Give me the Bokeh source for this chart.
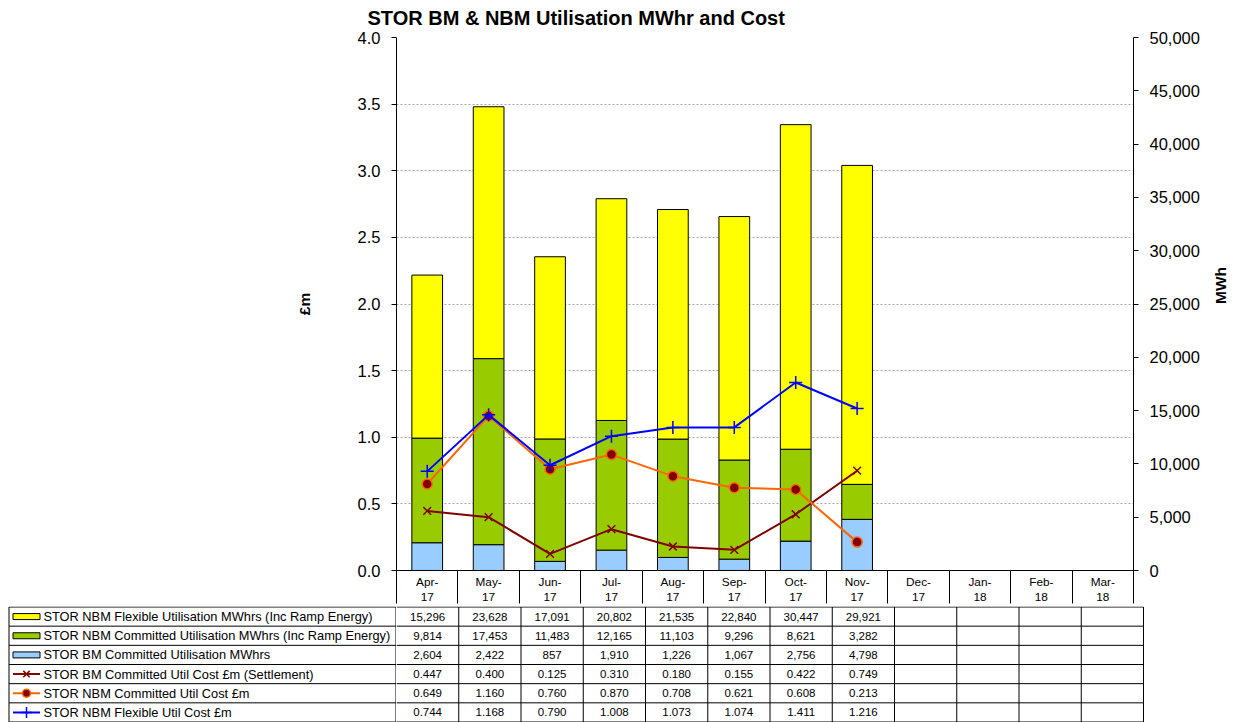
import math
from bokeh.plotting import figure
from bokeh.models import (Range1d, LinearAxis, SingleIntervalTicker,
                          FixedTicker, NumeralTickFormatter, ColumnDataSource)
from bokeh.layouts import column, row
from bokeh.embed import file_html
from bokeh.resources import INLINE
from bokeh.core.properties import value

# ---------------- data ----------------
months = ["Apr-17", "May-17", "Jun-17", "Jul-17", "Aug-17", "Sep-17",
          "Oct-17", "Nov-17", "Dec-17", "Jan-18", "Feb-18", "Mar-18"]
data_months = months[:8]

nbm_flexible_mwh = [15296, 23628, 17091, 20802, 21535, 22840, 30447, 29921]
nbm_committed_mwh = [9814, 17453, 11483, 12165, 11103, 9296, 8621, 3282]
bm_committed_mwh = [2604, 2422, 857, 1910, 1226, 1067, 2756, 4798]

bm_committed_cost = [0.447, 0.400, 0.125, 0.310, 0.180, 0.155, 0.422, 0.749]
nbm_committed_cost = [0.649, 1.160, 0.760, 0.870, 0.708, 0.621, 0.608, 0.213]
nbm_flexible_cost = [0.744, 1.168, 0.790, 1.008, 1.073, 1.074, 1.411, 1.216]

series_labels = [
    "STOR NBM Flexible Utilisation MWhrs (Inc Ramp Energy)",
    "STOR NBM Committed Utilisation MWhrs (Inc Ramp Energy)",
    "STOR BM  Committed Utilisation MWhrs",
    "STOR BM  Committed Util Cost £m (Settlement)",
    "STOR NBM Committed Util Cost £m",
    "STOR NBM Flexible Util Cost £m",
]

# ---------------- style ----------------
FONT = "Liberation Sans"
C_FLEX = "#FFFF00"
C_NBMC = "#99CC00"
C_BMC = "#99CCFF"
C_BMCOST = "#800000"
C_NBMCOST = "#FF6600"
C_FLEXCOST = "#0000FF"

W = 1240
LEFT = 396
RIGHT = 97
TOP = 37
FRAME_H = 536
HEAD_H = 33
HA = TOP + FRAME_H + HEAD_H
HB = 116
NCOL = len(months)
COL_PX = (W - LEFT - RIGHT) / NCOL

# category index -> centre of its column on the x scale
xpos = [months.index(m) + 0.5 for m in data_months]

# ---------------- chart ----------------
p = figure(width=W, height=HA, x_range=Range1d(0, NCOL), y_range=Range1d(0, 4),
           x_axis_location=None, output_backend="svg", toolbar_location=None,
           min_border_left=LEFT, min_border_right=RIGHT, min_border_top=TOP,
           min_border_bottom=HEAD_H, title="STOR BM & NBM Utilisation MWhr and Cost")
p.outline_line_color = None
p.title.align = "left"
p.title.offset = -29
p.title.text_font = FONT
p.title.text_font_size = "20px"
p.title.text_font_style = "bold"
p.title.text_color = "black"
p.title.vertical_align = "top"
p.title.standoff = 13
p.extra_y_ranges = {"mwh": Range1d(0, 50000)}

p.xgrid.visible = False
p.ygrid.ticker = SingleIntervalTicker(interval=0.5)
p.ygrid.grid_line_color = "#A6A6A6"
p.ygrid.grid_line_dash = "2 2"
p.ygrid.grid_line_width = 1


def style_axis(ax):
    ax.axis_line_color = "black"
    ax.axis_line_width = 1
    ax.major_tick_line_color = "black"
    ax.major_tick_in = 0
    ax.major_tick_out = 5
    ax.minor_tick_line_color = None
    ax.major_label_text_font = FONT
    ax.major_label_text_font_size = "16.5px"
    ax.major_label_text_color = "black"
    ax.axis_label_text_font = FONT
    ax.axis_label_text_font_size = "15.5px"
    ax.axis_label_text_font_style = "bold"
    ax.axis_label_text_color = "black"


ya = p.yaxis[0]
ya.ticker = SingleIntervalTicker(interval=0.5)
ya.formatter = NumeralTickFormatter(format="0.0")
ya.axis_label = "£m"
style_axis(ya)
ya.major_label_standoff = 11
ya.axis_label_standoff = 42

yr = LinearAxis(y_range_name="mwh", ticker=SingleIntervalTicker(interval=5000),
                formatter=NumeralTickFormatter(format="0,0"), axis_label="MWh")
style_axis(yr)
yr.major_label_standoff = 11
yr.axis_label_standoff = 18
yr.axis_label_orientation = math.pi / 2
p.add_layout(yr, "right")

# x axis: month header row of the data table (labels at centres, cell borders as ticks)
xa = LinearAxis(ticker=FixedTicker(ticks=[i + 0.5 for i in range(NCOL)],
                                   minor_ticks=list(range(NCOL + 1))))
xa.major_label_overrides = {i + 0.5: m.replace("-", "-\n") for i, m in enumerate(months)}
xa.axis_line_color = "black"
xa.axis_line_width = 1
xa.major_tick_in = 0
xa.major_tick_out = 0
xa.major_tick_line_color = None
xa.minor_tick_in = 0
xa.minor_tick_out = HEAD_H
xa.minor_tick_line_color = "black"
xa.minor_tick_line_width = 1
xa.major_label_standoff = 4 - HEAD_H
xa.major_label_text_font = FONT
xa.major_label_text_font_size = "11.8px"
xa.major_label_text_color = "black"
xa.major_label_text_line_height = 1.1
p.add_layout(xa, "below")

bar_src = ColumnDataSource(dict(x=xpos, bm=bm_committed_mwh,
                                nbmc=nbm_committed_mwh, nbmf=nbm_flexible_mwh))
p.vbar_stack(["bm", "nbmc", "nbmf"], x="x", width=0.5, source=bar_src,
             y_range_name="mwh", fill_color=[C_BMC, C_NBMC, C_FLEX],
             line_color="black", line_width=1)

line_src = ColumnDataSource(dict(x=xpos, bmc=bm_committed_cost,
                                 nbmc=nbm_committed_cost, nbmf=nbm_flexible_cost))
p.line("x", "bmc", source=line_src, line_color=C_BMCOST, line_width=2)
p.scatter("x", "bmc", source=line_src, marker="x", size=11,
          line_color=C_BMCOST, line_width=1.5)
p.line("x", "nbmc", source=line_src, line_color=C_NBMCOST, line_width=2)
p.scatter("x", "nbmc", source=line_src, marker="circle", size=10,
          fill_color=C_BMCOST, line_color=C_NBMCOST, line_width=1.5)
p.line("x", "nbmf", source=line_src, line_color=C_FLEXCOST, line_width=2)
p.scatter("x", "nbmf", source=line_src, marker="cross", size=13,
          line_color=C_FLEXCOST, line_width=1.5)

# ---------------- data table geometry ----------------
row_h = (HB - 1) / 6
row_lines = [0.5 + k * row_h for k in range(7)]
row_c = [0.5 + (k + 0.5) * row_h for k in range(6)]

# legend column (left part of the table)
c = figure(width=LEFT, height=HB, x_range=Range1d(0, LEFT), y_range=Range1d(HB, 0),
           x_axis_location=None, y_axis_location=None, output_backend="svg",
           toolbar_location=None, min_border_left=0, min_border_right=0,
           min_border_top=0, min_border_bottom=0)
c.outline_line_color = None
c.grid.visible = False
TL = 8.5
c.segment(x0=[TL] * 7, x1=[LEFT] * 7, y0=row_lines, y1=row_lines,
          line_color="black", line_width=1)
c.segment(x0=[TL, LEFT - 0.5], x1=[TL, LEFT - 0.5], y0=[0.5, 0.5],
          y1=[HB - 0.5, HB - 0.5], line_color="black", line_width=1)
KX0, KX1, TX = 12.5, 39.5, 43
KXC = (KX0 + KX1) / 2
c.text(x=[TX] * 6, y=row_c, text=series_labels, text_font=value(FONT),
       text_font_size="12.8px", text_align="left", text_baseline="middle",
       text_color="black")
c.quad(left=[KX0] * 3, right=[KX1] * 3,
       top=[row_c[k] - 3 for k in range(3)], bottom=[row_c[k] + 3 for k in range(3)],
       fill_color=[C_FLEX, C_NBMC, C_BMC], line_color="black", line_width=1)
c.segment(x0=[KX0] * 3, x1=[KX1] * 3, y0=row_c[3:], y1=row_c[3:],
          line_color=[C_BMCOST, C_NBMCOST, C_FLEXCOST], line_width=2)
c.scatter(x=[KXC], y=[row_c[3]], marker="x", size=9, line_color=C_BMCOST, line_width=1.5)
c.scatter(x=[KXC], y=[row_c[4]], marker="circle", size=8, fill_color=C_BMCOST,
          line_color=C_NBMCOST, line_width=1.5)
c.scatter(x=[KXC], y=[row_c[5]], marker="cross", size=11, line_color=C_FLEXCOST,
          line_width=1.5)

# value columns (right part of the table)
q = figure(width=W - LEFT, height=HB, x_range=Range1d(0, NCOL + 1 / COL_PX),
           y_range=Range1d(HB, 0), x_axis_location=None, y_axis_location=None,
           output_backend="svg", toolbar_location=None,
           min_border_left=0, min_border_right=RIGHT - 1,
           min_border_top=0, min_border_bottom=0)
q.outline_line_color = None
q.grid.visible = False

sx0, sx1, sy0, sy1 = [], [], [], []
for y in row_lines:
    sx0.append(0); sx1.append(NCOL); sy0.append(y); sy1.append(y)
for i in range(1, NCOL + 1):
    sx0.append(i); sx1.append(i); sy0.append(0.5); sy1.append(HB - 0.5)
q.segment(x0=sx0, y0=sy0, x1=sx1, y1=sy1, line_color="black", line_width=1)

row_vals = [
    [f"{v:,}" for v in nbm_flexible_mwh],
    [f"{v:,}" for v in nbm_committed_mwh],
    [f"{v:,}" for v in bm_committed_mwh],
    [f"{v:.3f}" for v in bm_committed_cost],
    [f"{v:.3f}" for v in nbm_committed_cost],
    [f"{v:.3f}" for v in nbm_flexible_cost],
]
cx, cy, ct = [], [], []
for k, vals in enumerate(row_vals):
    for i, t in enumerate(vals):
        cx.append(i + 0.5); cy.append(row_c[k]); ct.append(t)
q.text(x=cx, y=cy, text=ct, text_font=value(FONT), text_font_size="11.5px",
       text_align="center", text_baseline="middle", text_color="black")

layout = column(p, row(c, q, spacing=0), spacing=0)
open("out.html", "w").write(file_html(layout, INLINE))
